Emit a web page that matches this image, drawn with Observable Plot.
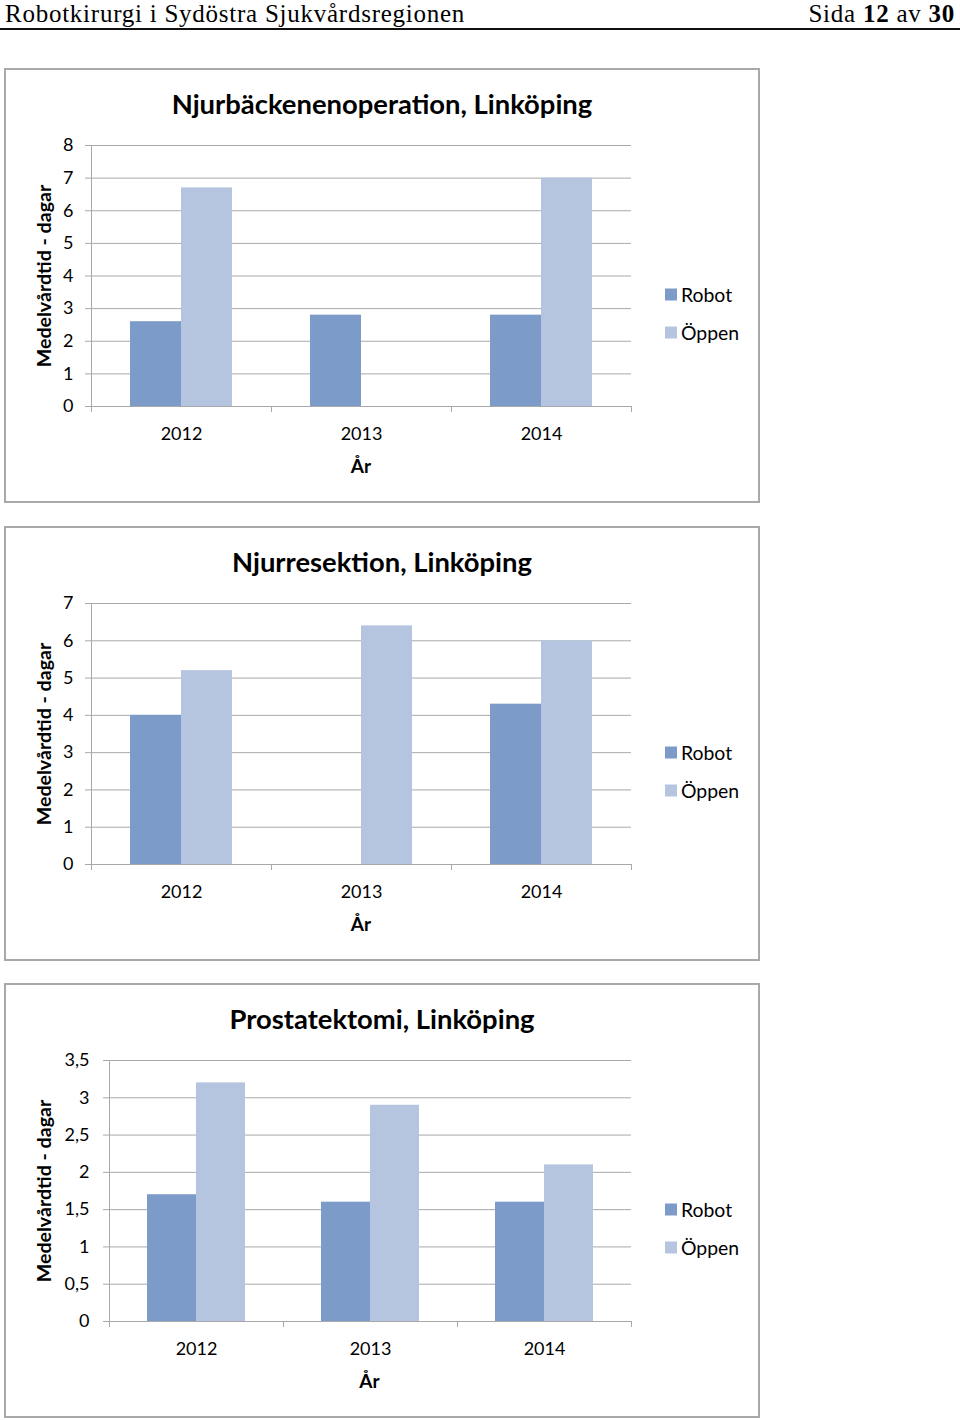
<!DOCTYPE html>
<html>
<head>
<meta charset="utf-8">
<script src="https://cdn.jsdelivr.net/npm/d3@7"></script>
<script src="https://cdn.jsdelivr.net/npm/@observablehq/plot@0.6"></script>
<style>
  html, body { margin: 0; padding: 0; background: #fff; }
  body { width: 960px; height: 1420px; position: relative; overflow: hidden; font-family: Lato, "Open Sans", sans-serif; }
  .hdr { position: absolute; top: 0; font-family: "Liberation Serif", serif; font-size: 25px; line-height: 28px; letter-spacing: 0.75px; color: #000; white-space: nowrap; }
  .hline { position: absolute; left: 0; top: 28px; width: 960px; height: 2px; background: #111; }
  .box { position: absolute; left: 4px; width: 756px; height: 435px; box-sizing: border-box; border: 2px solid #a9a9a9; }
  .title { position: absolute; font-weight: bold; font-size: 27.4px; white-space: nowrap; transform: translate(-50%, -50%); color: #000; }
  .ylab { position: absolute; font-weight: bold; font-size: 19.6px; white-space: nowrap; transform: translate(-50%, -50%) rotate(-90deg); color: #000; }
  .xlab { position: absolute; font-weight: bold; font-size: 19px; white-space: nowrap; transform: translate(-50%, -50%); color: #000; }
  .plot { position: absolute; left: 0; }
  .leg { position: absolute; font-size: 19.4px; white-space: nowrap; color: #000; transform: translateY(-50%); display: flex; align-items: center; }
  .sw { display: inline-block; width: 12px; height: 12px; margin-right: 4px; }
</style>
</head>
<body>
<div class="hdr" style="left:5px;">Robotkirurgi i Sydöstra Sjukvårdsregionen</div>
<div class="hdr" style="right:5px;">Sida <b>12</b> av <b>30</b></div>
<div class="hline"></div>
<div id="root"></div>
<script>
// ---- data ----
const years = ["2012", "2013", "2014"];
const series = ["Robot", "Öppen"];
const colors = ["#7d9bc8", "#b5c5df"];

const titles = ["Njurbäckenenoperation, Linköping", "Njurresektion, Linköping", "Prostatektomi, Linköping"];
const yTitle = "Medelvårdtid - dagar";
const xTitle = "År";

const njurbackenRobot = [2.6, 2.8, 2.8];
const njurbackenOppen = [6.7, null, 7.0];

const njurresektionRobot = [4.0, null, 4.3];
const njurresektionOppen = [5.2, 6.4, 6.0];

const prostatektomiRobot = [1.7, 1.6, 1.6];
const prostatektomiOppen = [3.2, 2.9, 2.1];

const ticks1 = [0, 1, 2, 3, 4, 5, 6, 7, 8];
const ticks2 = [0, 1, 2, 3, 4, 5, 6, 7];
const ticks3 = [0, 0.5, 1, 1.5, 2, 2.5, 3, 3.5];

const charts = [
  {title: titles[0], robot: njurbackenRobot, oppen: njurbackenOppen, ticks: ticks1, top: 68, marginLeft: 91, pad: 12},
  {title: titles[1], robot: njurresektionRobot, oppen: njurresektionOppen, ticks: ticks2, top: 526, marginLeft: 91, pad: 12},
  {title: titles[2], robot: prostatektomiRobot, oppen: prostatektomiOppen, ticks: ticks3, top: 983, marginLeft: 108, pad: 14}
];

const root = document.getElementById("root");
const W = 650, H = 340, MT = 15, MB = 64, MR = 19;
const plotH = H - MT - MB;
const grid = "#a9a9a9";

for (const c of charts) {
  const data = years.flatMap((yr, i) => [
    {year: yr, series: series[0], value: c.robot[i]},
    {year: yr, series: series[1], value: c.oppen[i]}
  ]).filter(d => d.value != null);

  const box = document.createElement("div");
  box.className = "box";
  box.style.top = c.top + "px";
  root.appendChild(box);

  const t = document.createElement("div");
  t.className = "title";
  t.textContent = c.title;
  t.style.left = "382px";
  t.style.top = (c.top + 35) + "px";
  root.appendChild(t);

  const plot = Plot.plot({
    width: W, height: H,
    marginLeft: c.marginLeft, marginRight: MR, marginTop: MT, marginBottom: MB,
    style: {fontFamily: "Lato, sans-serif", fontSize: "18px", color: "#000", background: "transparent", overflow: "visible"},
    fx: {domain: years, padding: 0, label: null},
    x: {domain: series, paddingInner: 0, paddingOuter: 0.75, axis: null},
    y: {domain: [0, c.ticks[c.ticks.length - 1]], label: null},
    color: {domain: series, range: colors},
    marks: [
      Plot.gridY(c.ticks, {stroke: grid, strokeOpacity: 1}),
      Plot.barY(data, {fx: "year", x: "series", y: "value", fill: "series"}),
      Plot.ruleY([0], {stroke: grid}),
      Plot.frame({anchor: "left", stroke: grid, strokeOpacity: 1, insetTop: plotH, insetBottom: -5}),
      Plot.frame({anchor: "right", stroke: grid, strokeOpacity: 1, insetTop: plotH, insetBottom: -5}),
      Plot.frame({anchor: "left", stroke: grid, strokeOpacity: 1, insetBottom: -5, facetAnchor: "left"}),
      Plot.axisY(c.ticks, {
        tickSize: 6, tickPadding: c.pad, stroke: grid, fill: "#000", label: null,
        tickFormat: d => String(d).replace(".", ","), fontSize: 18
      }),
      Plot.axisFx({anchor: "bottom", tickSize: 0, tickPadding: 21, label: null, fontSize: 18, fill: "#000"})
    ]
  });
  plot.classList.add("plot");
  plot.style.top = (c.top + 62) + "px";
  plot.style.position = "absolute";
  root.appendChild(plot);

  const yl = document.createElement("div");
  yl.className = "ylab";
  yl.textContent = yTitle;
  yl.style.left = "43px";
  yl.style.top = (c.top + 62 + MT + plotH / 2) + "px";
  root.appendChild(yl);

  const xl = document.createElement("div");
  xl.className = "xlab";
  xl.textContent = xTitle;
  xl.style.left = (c.marginLeft + (W - c.marginLeft - MR) / 2) + "px";
  xl.style.top = (c.top + 397) + "px";
  root.appendChild(xl);

  series.forEach((s, i) => {
    const l = document.createElement("div");
    l.className = "leg";
    l.style.left = "665px";
    l.style.top = (c.top + 226 + i * 38) + "px";
    l.innerHTML = `<span class="sw" style="background:${colors[i]}"></span>${s}`;
    root.appendChild(l);
  });
}
</script>
</body>
</html>
